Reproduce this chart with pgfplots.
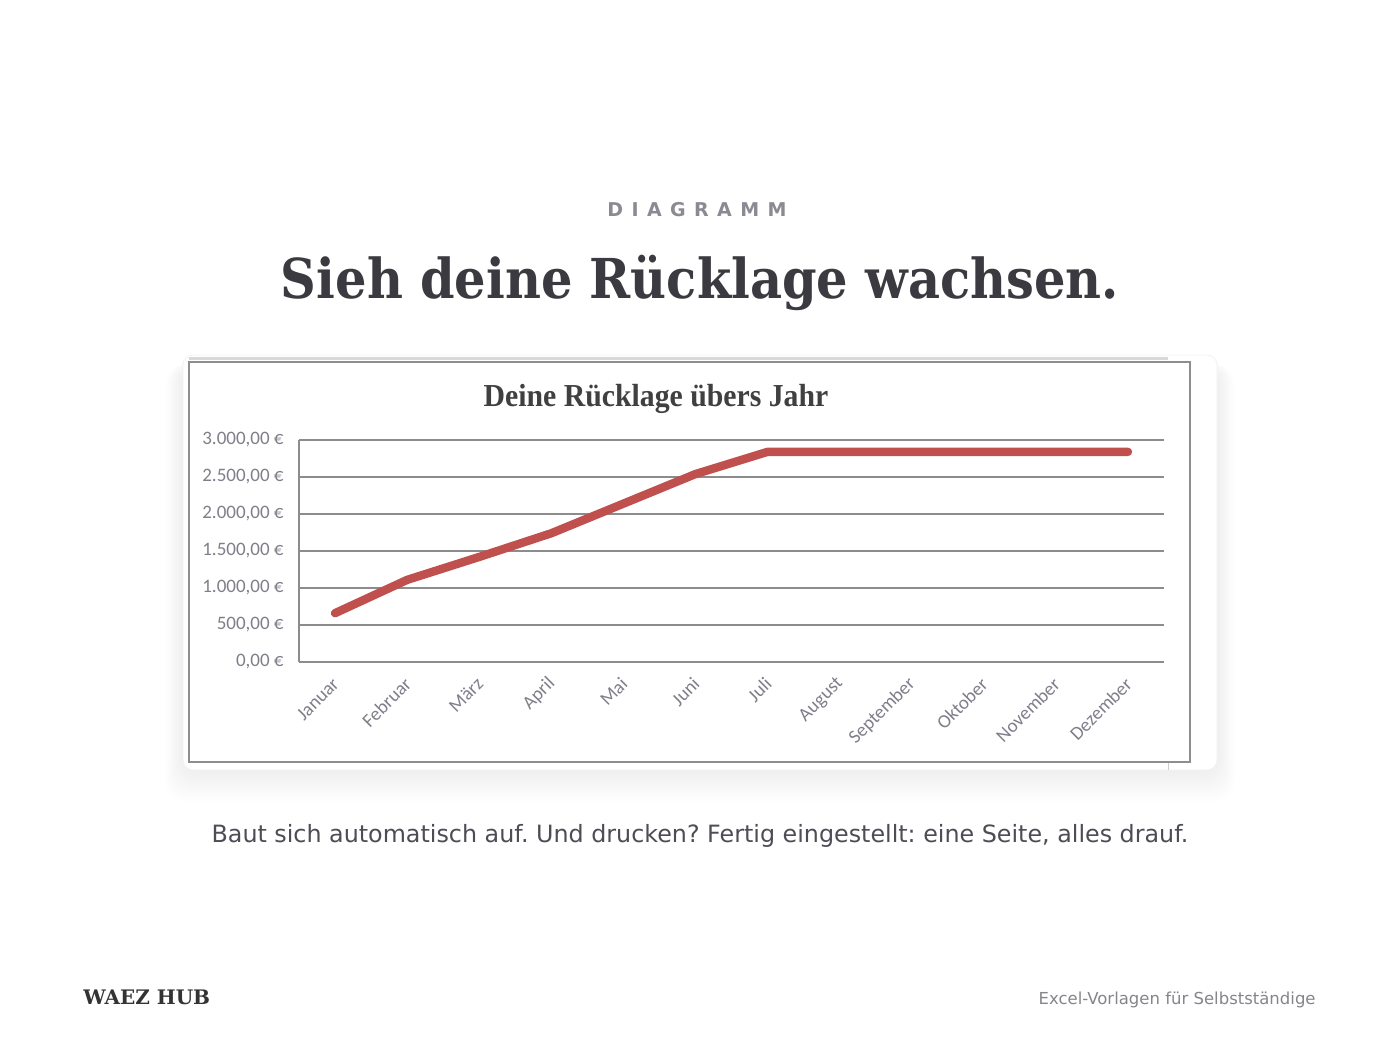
\documentclass[border=0pt]{standalone}
\usepackage{pgfplots}
\pgfplotsset{compat=1.18}
\usepackage{fontspec}
\setmainfont{DejaVu Sans}
\frenchspacing
\newfontfamily\dvsans{DejaVu Sans}
\newfontfamily\dvserif{DejaVu Serif}
\newfontfamily\dvserifc[FakeStretch=0.9]{DejaVu Serif}
\newfontfamily\carlito{Carlito}
\newfontfamily\libserif[FakeStretch=0.93]{Liberation Serif}
\definecolor{titlecol}{HTML}{3A3A40}
\definecolor{kicker}{HTML}{8A8A92}
\definecolor{capcol}{HTML}{4D4D55}
\definecolor{footgray}{HTML}{85858C}
\definecolor{framegray}{HTML}{8E8E8E}
\definecolor{gridgray}{HTML}{8C8C8C}
\definecolor{tickgray}{HTML}{7F7F8A}
\definecolor{excelred}{HTML}{C0504D}
\definecolor{innertitle}{HTML}{404040}
\begin{document}
\begin{tikzpicture}[x=0.5pt,y=-0.5pt]
\fill[white] (0,0) rectangle (1400,1050);
\path[use as bounding box] (0,0) rectangle (1400,1050);
% shadow
\foreach \i in {1,...,16}{
  \fill[black, opacity=0.005, rounded corners=10pt] ({183-1.1*\i},{364}) rectangle ({1217+1.1*\i},{770+2*\i});
}
% card
\draw[draw=black!5, fill=white, rounded corners=5pt] (183,355) rectangle (1217,770);
\draw[black!15, line width=1.5pt] (189,358) -- (1168,358);
\draw[black!18, line width=0.5pt] (1168,762) -- (1168,770);
\draw[draw=framegray, line width=1pt] (189,362) rectangle (1190,762);
% texts
\node[font=\dvsans\bfseries\fontsize{9.5}{11}\selectfont, text=kicker, anchor=base, inner sep=0pt] at (697,216)
  {D\kern4.2pt I\kern4.2pt A\kern4.2pt G\kern4.2pt R\kern4.2pt A\kern4.2pt M\kern4.2pt M};
\node[font=\dvserifc\bfseries\fontsize{27.5}{30}\selectfont, text=titlecol, anchor=base, inner sep=0pt] at (700,298)
  {Sieh deine Rücklage wachsen.};
\node[font=\libserif\bfseries\fontsize{16}{18}\selectfont, text=innertitle, anchor=base, inner sep=0pt] at (656,406)
  {Deine Rücklage übers Jahr};
\node[font=\dvsans\fontsize{11.9}{14}\selectfont, text=capcol, anchor=base, inner sep=0pt] at (700,842)
  {Baut sich automatisch auf. Und drucken? Fertig eingestellt: eine Seite, alles drauf.};
\node[font=\dvserif\bfseries\fontsize{10}{12}\selectfont, text=black!80, anchor=base west, inner sep=0pt] at (83,1004)
  {WAEZ HUB};
\node[font=\dvsans\fontsize{8.25}{10}\selectfont, text=footgray, anchor=base east, inner sep=0pt] at (1316,1004)
  {Excel-Vorlagen für Selbstständige};
% chart
\begin{axis}[
  at={(149.5pt,-331pt)}, anchor=south west,
  scale only axis, width=432.5pt, height=111pt,
  xmin=-0.5, xmax=11.5, ymin=0, ymax=3000,
  axis x line*=bottom, axis y line*=left,
  axis line style={draw=gridgray, line width=0.8pt, -},
  major tick length=0pt,
  ymajorgrids, grid style={draw=gridgray, line width=0.8pt},
  ytick={0,500,1000,1500,2000,2500,3000},
  yticklabels={{0,00 €},{500,00 €},{1.000,00 €},{1.500,00 €},{2.000,00 €},{2.500,00 €},{3.000,00 €}},
  xtick={0,...,11},
  xticklabels={Januar,Februar,März,April,Mai,Juni,Juli,August,September,Oktober,November,Dezember},
  yticklabel style={font=\carlito\fontsize{9.5}{11}\selectfont, text=tickgray, anchor=east, inner sep=0pt, xshift=-7.5pt},
  xticklabel style={font=\carlito\fontsize{9.5}{11}\selectfont, text=tickgray, rotate=45, anchor=east, inner sep=0pt, xshift=-6.3pt, yshift=-7pt},
  clip=false,
]
\addplot[color=excelred, line width=4.2pt, line cap=round, line join=round] coordinates {
 (0,660) (1,1110) (2,1420) (3,1740) (4,2140) (5,2540) (6,2840) (7,2840) (8,2840) (9,2840) (10,2840) (11,2840)
};
\end{axis}
\end{tikzpicture}
\end{document}
